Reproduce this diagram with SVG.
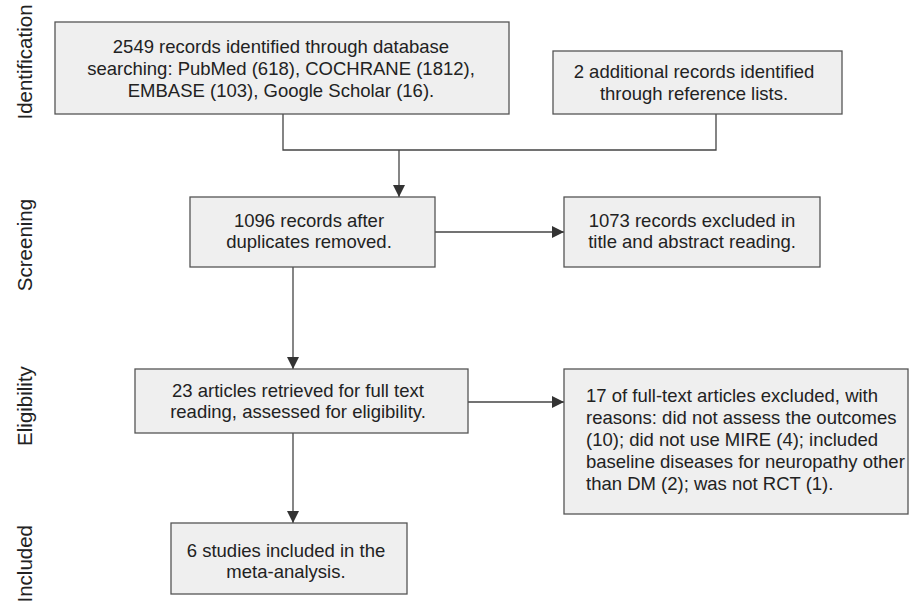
<svg xmlns="http://www.w3.org/2000/svg" width="912" height="604" viewBox="0 0 912 604">
<style>
.box{fill:#efefef;stroke:#555;stroke-width:1.3}
.t{font-family:"Liberation Sans",Arial,sans-serif;font-size:18.5px;fill:#222}
.c{text-anchor:middle}
.side{font-family:"Liberation Sans",Arial,sans-serif;font-size:20.5px;fill:#222;text-anchor:middle}
.ln{fill:none;stroke:#444;stroke-width:1.3}
</style>
<defs>
<marker id="ah" markerWidth="12" markerHeight="12" viewBox="0 0 12 12" refX="12" refY="6" orient="auto" markerUnits="userSpaceOnUse">
<path d="M0,0 L12,6 L0,12 Z" fill="#333"/>
</marker>
</defs>
<rect width="912" height="604" fill="#fff"/>
<g id="labels">
<text class="side" transform="translate(32,62) rotate(-90)">Identification</text>
<text class="side" transform="translate(32,245) rotate(-90)">Screening</text>
<text class="side" transform="translate(32,406) rotate(-90)">Eligibility</text>
<text class="side" transform="translate(32,525) rotate(-90)" style="text-anchor:end">Included</text>
</g>
<g id="connectors">
<polyline class="ln" points="283,114 283,150 716,150 716,114"/>
<line class="ln" x1="399" y1="150" x2="399" y2="197" marker-end="url(#ah)"/>
<line class="ln" x1="435" y1="232" x2="564" y2="232" marker-end="url(#ah)"/>
<line class="ln" x1="293" y1="267" x2="293" y2="369" marker-end="url(#ah)"/>
<line class="ln" x1="468" y1="402" x2="564" y2="402" marker-end="url(#ah)"/>
<line class="ln" x1="293" y1="433" x2="293" y2="523" marker-end="url(#ah)"/>
</g>
<g id="n1">
<rect class="box" x="55" y="22" width="454" height="92"/>
<text class="t c" x="281" y="53">2549 records identified through database</text>
<text class="t c" x="281" y="75">searching: PubMed (618), COCHRANE (1812),</text>
<text class="t c" x="281" y="97">EMBASE (103), Google Scholar (16).</text>
</g>
<g id="n2">
<rect class="box" x="553" y="51" width="289" height="63"/>
<text class="t c" x="694" y="78">2 additional records identified</text>
<text class="t c" x="694" y="100">through reference lists.</text>
</g>
<g id="n3">
<rect class="box" x="190" y="197" width="245" height="70"/>
<text class="t c" x="309" y="227">1096 records after</text>
<text class="t c" x="309" y="248">duplicates removed.</text>
</g>
<g id="n4">
<rect class="box" x="564" y="197" width="256" height="70"/>
<text class="t c" x="692" y="227">1073 records excluded in</text>
<text class="t c" x="692" y="248">title and abstract reading.</text>
</g>
<g id="n5">
<rect class="box" x="135" y="369" width="333" height="64"/>
<text class="t c" x="298" y="397">23 articles retrieved for full text</text>
<text class="t c" x="298" y="418">reading, assessed for eligibility.</text>
</g>
<g id="n6">
<rect class="box" x="564" y="369" width="344" height="145"/>
<text class="t" x="586" y="402">17 of full-text articles excluded, with</text>
<text class="t" x="586" y="424">reasons: did not assess the outcomes</text>
<text class="t" x="586" y="446">(10); did not use MIRE (4); included</text>
<text class="t" x="586" y="468">baseline diseases for neuropathy other</text>
<text class="t" x="586" y="490">than DM (2); was not RCT (1).</text>
</g>
<g id="n7">
<rect class="box" x="171" y="523" width="236" height="71"/>
<text class="t c" x="286" y="557">6 studies included in the</text>
<text class="t c" x="286" y="578">meta-analysis.</text>
</g>
</svg>
